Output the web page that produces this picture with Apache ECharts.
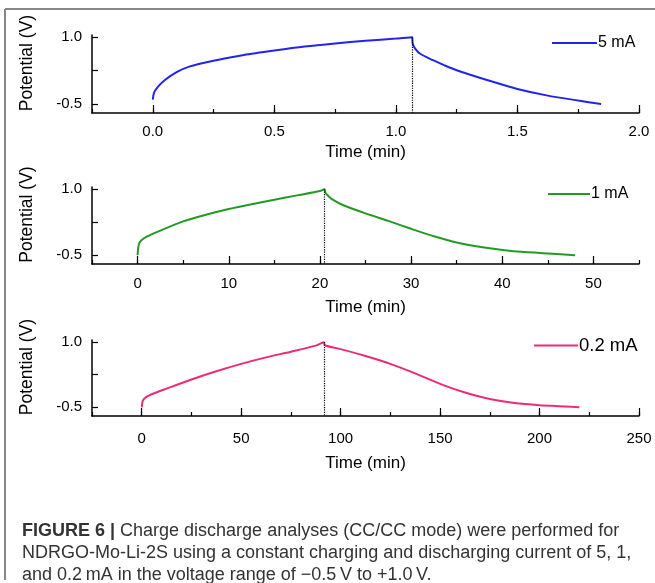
<!DOCTYPE html>
<html><head><meta charset="utf-8">
<script src="https://cdn.jsdelivr.net/npm/echarts@6/dist/echarts.min.js"></script>
<style>html,body{margin:0;padding:0;background:#fff}#c{width:655px;height:583px}</style>
</head><body><div id="c"></div>
<script>
// Panel 1: 5 mA
const t5 = [0, 0.005, 0.02, 0.05, 0.1, 0.15, 0.25, 0.375, 0.5, 0.625, 0.75, 0.875, 1.0, 1.067,
            1.069, 1.08, 1.1, 1.15, 1.2, 1.25, 1.375, 1.5, 1.625, 1.75, 1.844];
const v5 = [-0.4, -0.25, -0.12, 0.04, 0.22, 0.34, 0.47, 0.6, 0.7, 0.79, 0.86, 0.92, 0.97, 1.0,
            0.86, 0.74, 0.63, 0.49, 0.37, 0.26, 0.04, -0.16, -0.31, -0.42, -0.5];
// Panel 2: 1 mA
const t1 = [0, 0.2, 1, 2.5, 5, 7.5, 10, 12.5, 15, 17.5, 20, 20.5,
            20.6, 21, 21.5, 22.5, 25, 27.5, 30, 32.5, 35, 37.5, 40, 42.5, 45, 48];
const v1 = [-0.5, -0.22, -0.08, 0.06, 0.27, 0.42, 0.55, 0.66, 0.76, 0.86, 0.96, 1.0,
            0.92, 0.83, 0.75, 0.64, 0.45, 0.28, 0.1, -0.07, -0.21, -0.31, -0.38, -0.43, -0.46, -0.5];
// Panel 3: 0.2 mA
const t02 = [0, 0.5, 2, 5, 12.5, 25, 37.5, 50, 62.5, 75, 87.5, 91.6,
             92, 100, 112.5, 125, 137.5, 150, 162.5, 175, 187.5, 200, 212.5, 220];
const v02 = [-0.5, -0.35, -0.27, -0.2, -0.07, 0.14, 0.33, 0.5, 0.65, 0.78, 0.92, 1.0,
             0.93, 0.84, 0.68, 0.5, 0.28, 0.04, -0.16, -0.31, -0.4, -0.45, -0.48, -0.5];

const seriesNames = ['5 mA', '1 mA', '0.2 mA'];
const seriesColors = ['#2323ee', '#239b23', '#ee2a7b'];
const peakTimes = [1.067, 20.5, 91.6];
const xMins = [-0.25, -5, -25];
const xMaxs = [2.0, 55, 250];
const xMinorIntervals = [0.25, 5, 25];
const xMajorTicks = [[0, 0.5, 1.0, 1.5, 2.0], [0, 10, 20, 30, 40, 50], [0, 50, 100, 150, 200, 250]];
const xDecimals = [1, 0, 0];
const yTickValues = [-0.5, 0.25, 1.0];
const yLabelValues = [-0.5, 1.0];
const yMin = -0.7, yMax = 1.05;

const times = [t5, t1, t02];
const volts = [v5, v1, v02];

const FONT = "'Liberation Sans', Arial, sans-serif";
const gridTops = [35, 187, 340];
const gridHeights = [78, 77, 76];
const xNameGaps = [31, 35, 39];
const xLabelMargins = [11, 12, 15];
const legendPos = [[552, 35], [548, 186], [534, 336]];
const legendWidths = [45, 42, 44];
const legendFont = [16, 16, 18.5];

const grid = [], xAxis = [], yAxis = [], series = [], legend = [];
for (let i = 0; i < 3; i++) {
  grid.push({left: 92, right: 16, top: gridTops[i], height: gridHeights[i]});
  xAxis.push({
    type: 'value', gridIndex: i, position: 'bottom', min: xMins[i], max: xMaxs[i], interval: xMinorIntervals[i],
    axisLine: {show: true, onZero: false, lineStyle: {color: '#000', width: 1.5}},
    axisTick: {show: true, inside: true, length: 4, lineStyle: {color: '#000', width: 1.2}},
    axisLabel: {customValues: xMajorTicks[i], color: '#000', fontSize: 15, fontFamily: FONT,
      margin: xLabelMargins[i], formatter: (v) => v.toFixed(xDecimals[i])},
    splitLine: {show: false},
    name: 'Time (min)', nameLocation: 'middle', nameGap: xNameGaps[i],
    nameTextStyle: {color: '#000', fontSize: 17, fontFamily: FONT}
  });
  xAxis.push({
    type: 'value', gridIndex: i, position: 'bottom', min: xMins[i], max: xMaxs[i], interval: xMinorIntervals[i],
    axisLine: {show: false, onZero: false},
    axisTick: {show: true, inside: true, length: 8, customValues: xMajorTicks[i], lineStyle: {color: '#000', width: 1.2}},
    axisLabel: {show: false}, splitLine: {show: false}
  });
  yAxis.push({
    type: 'value', gridIndex: i, min: yMin, max: yMax,
    axisLine: {show: true, onZero: false, lineStyle: {color: '#000', width: 1.5}},
    axisTick: {show: true, inside: true, length: 6, customValues: yTickValues, lineStyle: {color: '#000', width: 1.2}},
    axisLabel: {customValues: yLabelValues, color: '#000', fontSize: 15, fontFamily: FONT, margin: 10,
      formatter: (v) => v.toFixed(1)},
    splitLine: {show: false},
    name: 'Potential (V)', nameLocation: 'middle', nameGap: 56,
    nameTextStyle: {color: '#000', fontSize: 17.5, fontFamily: FONT, padding: [0, 0, 0, 22]}
  });
  series.push({
    name: seriesNames[i], type: 'line', xAxisIndex: 2 * i, yAxisIndex: i,
    data: times[i].map((t, k) => [t, volts[i][k]]),
    showSymbol: false, smooth: 0.25, color: seriesColors[i],
    lineStyle: {color: seriesColors[i], width: 2},
    markLine: {
      silent: true, symbol: 'none', label: {show: false},
      lineStyle: {type: 'dotted', color: '#000', width: 1.2},
      data: [[{coord: [peakTimes[i], 1.0]}, {coord: [peakTimes[i], yMin]}]]
    }
  });
  legend.push({
    data: [seriesNames[i]], left: legendPos[i][0], top: legendPos[i][1], padding: 0,
    icon: 'rect', itemWidth: legendWidths[i], itemHeight: 2,
    textStyle: {color: '#000', fontSize: legendFont[i], fontFamily: FONT, padding: [0, 0, 0, -4]}
  });
}

const capFont = "'Liberation Sans', Arial, sans-serif";
const capStyle = (txt, y) => ({
  type: 'text', silent: true,
  style: {x: 22, y: y, text: txt, fill: '#333', fontSize: 18, fontFamily: capFont, verticalAlign: 'middle',
    rich: {b: {fontWeight: 'bold', fontSize: 18, fontFamily: capFont, fill: '#333'}}}
});

const option = {
  animation: false,
  backgroundColor: '#fff',
  grid, xAxis, yAxis, series, legend,
  graphic: [
    {type: 'line', silent: true, shape: {x1: 5, y1: 9, x2: 655, y2: 9}, style: {stroke: '#888', lineWidth: 2}},
    {type: 'line', silent: true, shape: {x1: 5, y1: 9, x2: 5, y2: 580}, style: {stroke: '#888', lineWidth: 2}},
    capStyle('{b|FIGURE 6 |} Charge discharge analyses (CC/CC mode) were performed for', 531),
    capStyle('NDRGO-Mo-Li-2S using a constant charging and discharging current of 5, 1,', 553),
    capStyle('and 0.2\u2009mA in the voltage range of \u22120.5\u2009V to +1.0\u2009V.', 575)
  ]
};
const chart = echarts.init(document.getElementById('c'), null, {renderer: 'canvas'});
chart.setOption(option);
</script></body></html>
